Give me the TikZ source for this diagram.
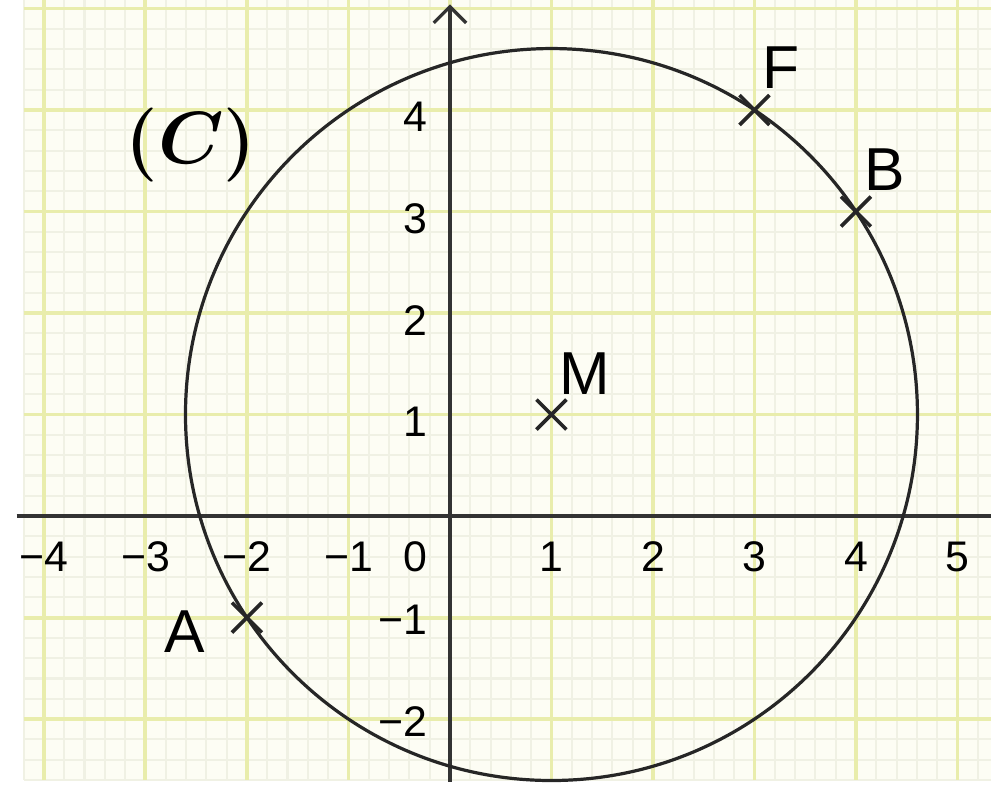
\documentclass[tikz,border=0pt]{standalone}
\usepackage{fontspec}
\setmainfont{Liberation Sans}
\usepackage{tikz}
\usetikzlibrary{arrows.meta, shapes.misc}
\definecolor{paperBg}{RGB}{253,253,244}
\definecolor{gridMajor}{RGB}{233,237,172}
\definecolor{gridMinor}{RGB}{240,241,228}

\begin{document}
\begin{tikzpicture}[
    minorGrid/.style={gridMinor, line width=0.6pt},
    majorGrid/.style={gridMajor, line width=1.1pt},
    axisLine/.style={black!80, line width=0.9pt},
    circleLine/.style={black!85, line width=0.9pt},
    ptMark/.style={cross out, draw=black!85, line width=1pt, minimum size=0.26cm, inner sep=0pt},
    ptLabel/.style={font=\fontsize{17}{20}\selectfont},
    tickLabel/.style={font=\fontsize{12}{14}\selectfont, inner sep=0pt}
]
    \useasboundingbox (-4.433,-2.788) rectangle (5.33,5.084);

    % Paper and grid
    \fill[paperBg] (-4.2,-2.6) rectangle (5.4,5.2);
    \draw[minorGrid, step=0.2] (-4.2,-2.6) grid (5.4,5.2);
    \draw[majorGrid, step=1] (-4.2,-2.6) grid (5.4,5.2);

    % Axes
    \draw[axisLine] (-4.27,0) -- (5.4,0);
    \draw[axisLine, -{Straight Barb[length=1.6mm, width=3.2mm]}] (0,-2.62) -- (0,5.04);

    % Tick labels
    \foreach \x in {1,...,5}
        \node[tickLabel] at (\x,-0.40) {\x};
    \foreach \x in {1,...,4}
        \node[tickLabel] at (-\x,-0.40) {−\x};
    \node[tickLabel] at (-0.34,-0.40) {0};
    \foreach \y in {1,...,4}
        \node[tickLabel, anchor=east] at (-0.22,\y-0.07) {\y};
    \foreach \y in {1,2}
        \node[tickLabel, anchor=east] at (-0.22,-\y-0.02) {−\y};

    % Points
    \node[ptMark] (M) at (1,1) {};
    \node[ptMark] (A) at (-2,-1) {};
    \node[ptMark] (B) at (4,3) {};
    \node[ptMark] (F) at (3,4) {};

    % Circle (C)
    \draw[circleLine] (M.center) circle ({sqrt(13)});

    % Labels
    \node[ptLabel] (lblM) at (1.33,1.40) {M};
    \node[ptLabel] (lblA) at (-2.61,-1.14) {A};
    \node[ptLabel] (lblB) at (4.28,3.41) {B};
    \node[ptLabel] (lblF) at (3.26,4.42) {F};
    \node[font=\fontsize{20}{24}\selectfont\boldmath] (lblC) at (-2.55,3.66) {$(C)$};
\end{tikzpicture}
\end{document}
